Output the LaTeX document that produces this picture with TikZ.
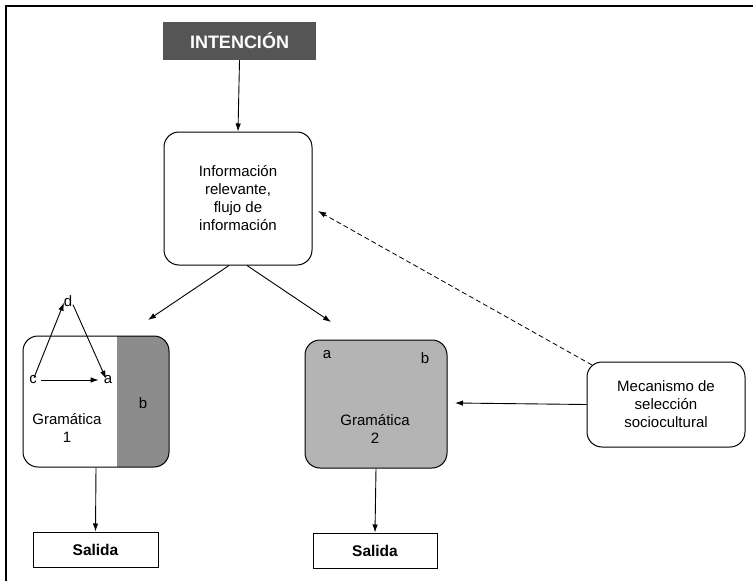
\documentclass[tikz,border=0pt]{standalone}
\usepackage{fontspec}
\setmainfont{Liberation Sans}
\usetikzlibrary{arrows.meta}
\definecolor{darkshade}{HTML}{555555}
\definecolor{midshade}{HTML}{8C8C8C}
\definecolor{lightshade}{HTML}{B4B4B4}
\tikzset{
  txt/.style={font=\fontsize{15}{18}\selectfont, inner sep=0pt},
  rbox/.style={draw, line width=1pt, rounded corners=15pt, align=center, font=\fontsize{15}{18}\selectfont, inner sep=0pt},
  sbox/.style={draw, line width=1pt, font=\bfseries\fontsize{15.5}{18}\selectfont, inner sep=0pt},
  arr/.style={line width=0.9pt, -{Latex[length=8pt,width=5.5pt]}},
  darr/.style={line width=0.8pt, dashed, dash pattern=on 5pt off 3pt, -{Latex[length=8pt,width=5.5pt]}},
}
\begin{document}
\begin{tikzpicture}[x=1pt,y=-1pt]
\useasboundingbox (0,0) rectangle (753,581);
% frame
\draw[line width=1.3pt] (6,581) -- (6,6) -- (753,6);
% nodes
\node[fill=darkshade, text=white, font=\bfseries\fontsize{18}{20}\selectfont, minimum width=153pt, minimum height=38pt, inner sep=0pt] (int) at (239.5,41) {INTENCIÓN};
\node[rbox, minimum width=148pt, minimum height=133pt] (info) at (238,198.5) {Información\\relevante,\\flujo de\\información};
\node[rbox, minimum width=146pt, minimum height=131pt,
  path picture={\fill[midshade, sharp corners] ([xshift=-52pt]path picture bounding box.north east) rectangle (path picture bounding box.south east);}] (g1) at (96,401.5) {};
\node[rbox, fill=lightshade, minimum width=142pt, minimum height=128pt] (g2) at (376,404) {};
\node[rbox, minimum width=158pt, minimum height=85pt] (mec) at (666,404.5) {Mecanismo de\\selección\\sociocultural};
\node[sbox, minimum width=125pt, minimum height=35pt] (s1) at (95.5,549.5) {Salida};
\node[sbox, minimum width=124pt, minimum height=35pt] (s2) at (375,550.5) {Salida};
% inner labels G1
\node[txt] (d) at (68,301) {d};
\node[txt] (c) at (33,380) {c};
\node[txt] (a1) at (108,380) {a};
\node[txt] (b1) at (143,403) {b};
\node[txt, align=center] (gr1) at (67,428) {Gramática\\1};
% inner labels G2
\node[txt] (a2) at (327,355) {a};
\node[txt] (b2) at (425,358) {b};
\node[txt, align=center] (gr2) at (375,429) {Gramática\\2};
% connectors
\coordinate (t1) at (148,320);
\coordinate (t2) at (331,322);
\coordinate (t3) at (455,403);
\coordinate (t4) at (318,211);
\coordinate (m1) at (592,365);
\draw[arr] (int.south) -- (info.north);
\draw[arr] ([xshift=-9pt]info.south) -- (t1);
\draw[arr] ([xshift=9pt]info.south) -- (t2);
\draw[arr] ([xshift=1pt,yshift=-2pt]c.north) -- ([xshift=-4pt,yshift=4pt]d.south);
\draw[arr] ([xshift=5pt,yshift=2pt]d.south) -- ([xshift=-2pt,yshift=-3pt]a1.north);
\draw[arr] ([xshift=4pt]c.east) -- ([xshift=-5pt]a1.west);
\draw[arr] (g1.south) -- (s1.north);
\draw[arr] (g2.south) -- (s2.north);
\draw[arr] (mec.west) -- (t3);
\draw[darr] (m1) -- (t4);
\end{tikzpicture}
\end{document}
